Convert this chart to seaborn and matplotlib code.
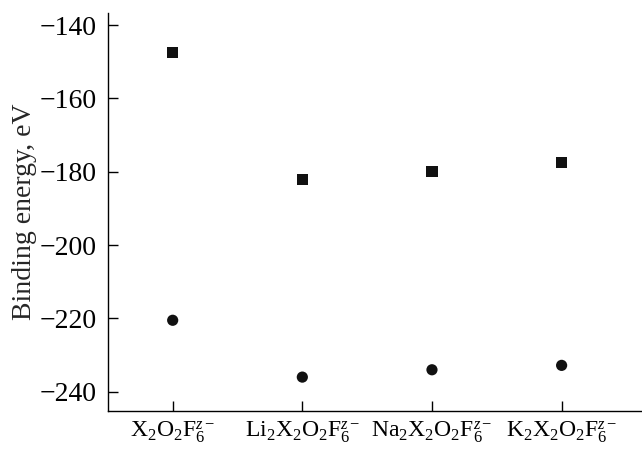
import numpy as np
import pandas as pd
import matplotlib
matplotlib.use("Agg")
import matplotlib.pyplot as plt
import seaborn as sns

# Data
labels = [r"$\mathregular{X_2O_2F_6^{\mathit{z}-}}$",
          r"$\mathregular{Li_2X_2O_2F_6^{\mathit{z}-}}$",
          r"$\mathregular{Na_2X_2O_2F_6^{\mathit{z}-}}$",
          r"$\mathregular{K_2X_2O_2F_6^{\mathit{z}-}}$"]
squares = [-147.5, -182.0, -180.0, -177.5]
circles = [-220.5, -236.0, -234.0, -232.8]
yticks = [-240, -220, -200, -180, -160, -140]

df = pd.DataFrame({
    "x": list(range(4)) * 2,
    "energy": squares + circles,
    "series": ["sq"] * 4 + ["ci"] * 4,
})

sns.set_style("ticks")
plt.rcParams["font.family"] = ["Liberation Serif", "DejaVu Serif"]
plt.rcParams["mathtext.fontset"] = "custom"
plt.rcParams["mathtext.rm"] = "Liberation Serif"
plt.rcParams["mathtext.it"] = "Liberation Serif:italic"

fig = plt.figure(figsize=(6.42, 4.49), dpi=100)
ax = fig.add_axes([0.168, 0.085, 0.832, 0.886])

sns.scatterplot(data=df, x="x", y="energy", style="series", hue="series",
                markers={"sq": "s", "ci": "o"},
                palette={"sq": "#111111", "ci": "#111111"},
                s=65, edgecolor="none", legend=False, ax=ax)

ax.set_xlim(-0.5, 3.62)
ax.set_ylim(-245.2, -136.7)
ax.set_yticks(yticks)
ax.set_yticklabels([f"\u2212{abs(v)}" for v in yticks])
ax.set_xticks(range(4))
ax.set_xticklabels(labels)
ax.set_xlabel("")
ax.set_ylabel("Binding energy, eV", fontsize=20, labelpad=2)
ax.tick_params(direction="in", length=7, width=1, colors="black")
ax.tick_params(axis="y", labelsize=20, pad=8)
ax.tick_params(axis="x", labelsize=17, pad=6)
sns.despine(ax=ax)
for s in ["left", "bottom"]:
    ax.spines[s].set_color("black")
    ax.spines[s].set_linewidth(1)

fig.savefig("out.png", dpi=100)
